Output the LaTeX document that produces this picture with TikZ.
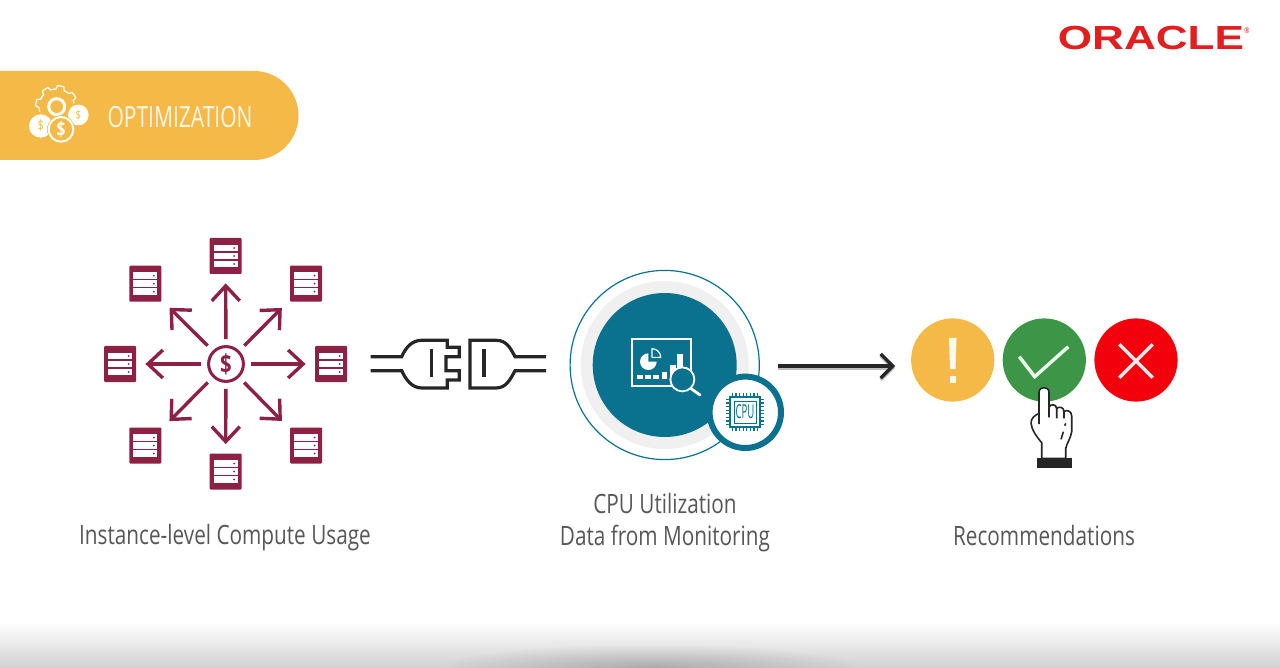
\documentclass[tikz,border=0pt]{standalone}
\usepackage{fontspec}
\setmainfont[FakeStretch=0.78]{Open Sans}
\newfontfamily\headfont[FakeStretch=0.72]{Open Sans}
\newfontfamily\logofont[FakeStretch=1.32]{Liberation Sans}
\newfontfamily\chipfont[FakeStretch=0.5]{Open Sans}
\usetikzlibrary{arrows.meta,fadings}
\definecolor{wine}{RGB}{141,33,68}
\definecolor{amber}{RGB}{245,185,72}
\definecolor{petrol}{RGB}{10,113,142}
\definecolor{leaf}{RGB}{61,150,72}
\definecolor{alarm}{RGB}{242,0,12}
\definecolor{oraclered}{RGB}{226,30,30}
\definecolor{ink}{RGB}{38,38,38}
\tikzfading[name=softspot,inner color=transparent!0,outer color=transparent!100]
\tikzset{
  srvbox/.style={fill=wine,rounded corners=.5pt,minimum width=16pt,minimum height=18pt,inner sep=0pt},
  srvarrow/.style={draw=wine,line width=1.7pt,-{Straight Barb[length=7.5pt,width=14pt]},shorten <=3pt,shorten >=4.5pt},
  srvdiag/.style={srvarrow,shorten <=3.5pt,shorten >=5.5pt},
  caption/.style={text=black!66,font=\fontsize{13.3}{16}\selectfont,align=center},
  plugline/.style={draw=ink,line width=1.6pt},
  verdict/.style={circle,minimum size=41.6pt,inner sep=0pt},
  tickline/.style={draw=white!92!green,line width=1.7pt}
}
\begin{document}
\begin{tikzpicture}[x=.5pt,y=-.5pt]
  \useasboundingbox (0,0) rectangle (1280,668);
  \clip (0,0) rectangle (1280,668);
  % floor
  \shade[top color=white,bottom color=black!18] (0,622) rectangle (1280,668);
  \fill[black,opacity=.18,path fading=softspot,fit fading=true] (440,644) rectangle (860,690);

  % header band
  \fill[amber] (0,71) -- (254,71) arc (-90:90:44.5) -- (0,160) -- cycle;
  \node[text=white!88!amber,font=\headfont\fontsize{14.6}{16}\selectfont] (headline) at (180,117.5) {OPTIMIZATION};
  \begin{scope}[shift={(0,60)},x=.1667pt,y=-.1667pt]
    \begin{scope}[shift={(170,140)}]
      \draw[white,line width=.6pt] plot[domain=0:360,samples=145] (\x:{58+5*sign(sin(8*\x))}) -- cycle;
    \end{scope}
    \fill[amber] (183,208) circle (50);
    \draw[white,line width=1.5pt] (170,140) circle (24);
    \fill[amber] (122,198) circle (42);
    \fill[amber] (235,165) circle (37);
    \fill[white] (122,198) circle (35);
    \fill[white] (235,165) circle (31);
    \node[text=amber,font=\fontsize{7}{8}\selectfont] (coinleft) at (122,198) {\$};
    \node[text=amber,font=\fontsize{6}{8}\selectfont] (coinright) at (235,165) {\$};
    \fill[amber] (183,208) circle (42);
    \draw[white,line width=1pt] (183,208) circle (37);
    \node[text=white,font=\bfseries\fontsize{10}{10}\selectfont] (coinmid) at (183,208) {\$};
  \end{scope}

  % logo
  \node[text=oraclered,font=\logofont\bfseries\fontsize{16.7}{18}\selectfont,inner sep=0pt] (oracle) at (1151,38.5) {ORACLE};
  \node[text=oraclered,font=\fontsize{4}{4}\selectfont,inner sep=0pt] (oraclereg) at (1247,31) {\char"00AE};

  % instance usage
  \node[circle,draw=wine,line width=1.5pt,minimum size=17.4pt,inner sep=0pt,text=wine,font=\bfseries\fontsize{13}{13}\selectfont] (dollar) at (226,364) {\$};
  \foreach \n/\x/\y in {1/225.6/256,2/306/283.7,3/331/364,4/306/445.5,5/225.6/471.5,6/145.3/445.5,7/120/364,8/145.3/283.7}{
    \node[srvbox] (srv\n) at (\x,\y) {};
    \foreach \r in {-8,0,8}{
      \fill[white] (\x-12,\y+\r-3.2) rectangle (\x+12,\y+\r+3.2);
      \fill[wine] (\x+8.5,\y+\r) circle (1);
    }
  }
  \draw[srvarrow] (dollar) -- (srv1);
  \draw[srvdiag] (dollar) -- (srv2);
  \draw[srvarrow] (dollar) -- (srv3);
  \draw[srvdiag] (dollar) -- (srv4);
  \draw[srvarrow] (dollar) -- (srv5);
  \draw[srvdiag] (dollar) -- (srv6);
  \draw[srvarrow] (dollar) -- (srv7);
  \draw[srvdiag] (dollar) -- (srv8);
  \node[caption] (usagetext) at (225,537.5) {Instance-level Compute Usage};

  % plug
  \draw[plugline] (370.7,356.7) -- (401.7,356.7) .. controls (406,347) and (412,340.3) .. (422,340.3)
    -- (447.3,340.3) -- (447.3,347.3) -- (459.3,347.3) -- (459.3,356.7) -- (446,356.7) -- (446,370.7)
    -- (459.3,370.7) -- (459.3,380) -- (447.3,380) -- (447.3,388) -- (422,388)
    .. controls (412,388) and (406,380) .. (401.7,370.7) -- (370.7,370.7);
  \draw[plugline] (431.3,349.3) -- (431.3,377.3);
  \draw[plugline] (546,356.7) -- (515,356.7) .. controls (510,347) and (506,340.3) .. (496,340.3)
    -- (470,340.3) -- (470,388) -- (496,388) .. controls (506,388) and (510,380) .. (515,370.7) -- (546,370.7);
  \draw[plugline] (484,349.3) -- (484,377.3);

  % monitoring
  \node[circle,draw=petrol,line width=.6pt,minimum size=94.6pt,inner sep=0pt] (ring) at (664.7,365) {};
  \fill[black!6] (664.7,365) circle (84);
  \node[circle,fill=petrol,minimum size=72pt,inner sep=0pt] (monitor) at (664.7,365) {};
  \begin{scope}[shift={(560,260)},x=.1667pt,y=-.1667pt]
    \draw[white,line width=1pt] (215,238) rectangle (392,378);
    \fill[white] (265,305) -- (265,280) arc (-90:-360:25) -- cycle;
    \draw[white,line width=.6pt,line join=round] (276,268) -- (276,292) -- (302,292) arc (0:-90:26) -- cycle;
    \foreach \xa/\ya in {232/345,255/345,280/345,305/335,330/315,352/283}{
      \fill[white] (\xa,\ya) rectangle (\xa+17,358);
    }
    \draw[white,line width=1.4pt,line cap=round] (392,385) -- (420,405);
    \draw[white,fill=petrol,line width=.9pt] (367,358) circle (36);
  \end{scope}
  \node[circle,draw=petrol,fill=white,line width=3pt,minimum size=35.7pt,inner sep=0pt] (chip) at (745.3,412.3) {};
  \begin{scope}[shift={(745,412)}]
    \draw[petrol,line width=.8pt] (-15,-15) rectangle (15,15);
    \draw[petrol,line width=.5pt] (-11,-11) rectangle (11,11);
    \foreach \p in {-12.6,-9,-5.4,-1.8,1.8,5.4,9,12.6}{
      \draw[petrol,line width=.6pt] (\p,-19) -- (\p,-15) (\p,15) -- (\p,19) (-19,\p) -- (-15,\p) (15,\p) -- (19,\p);
    }
    \node[text=petrol,font=\chipfont\fontsize{9.6}{10}\selectfont,inner sep=0pt] (chiptext) at (0,0) {CPU};
  \end{scope}
  \node[caption] (monitortext) at (665,523) {CPU Utilization\\Data from Monitoring};

  % arrow to results
  \coordinate (resultfrom) at (778,366);
  \coordinate (resultto) at (895,366);
  \draw[black!25,line width=1.6pt,transform canvas={yshift=-1pt},-{Straight Barb[length=6pt,width=12pt]}] (resultfrom) -- (resultto);
  \draw[ink,line width=1.6pt,-{Straight Barb[length=6pt,width=12pt]}] (resultfrom) -- (resultto);

  % recommendations
  \node[verdict,fill=amber] (warn) at (952.7,360) {};
  \node[verdict,fill=leaf] (good) at (1044.3,360) {};
  \node[verdict,fill=alarm] (bad) at (1136,360) {};
  \fill[white!92!amber] (949,338) -- (956.5,338) -- (955.5,369) -- (950,369) -- cycle;
  \fill[white!92!amber] (949.5,376) rectangle (955.5,383);
  \draw[tickline] (1019.3,356.7) -- (1034.7,376.7) -- (1068.3,346.7);
  \draw[tickline,draw=white!92!red] (1119.3,344.3) -- (1152.7,377.7) (1152.7,344.3) -- (1119.3,377.7);
  \begin{scope}[shift={(900,310)},x=.1667pt,y=-.1667pt]
    \draw[ink,fill=white,line width=.8pt,line join=round] (425,445) -- (425,398) .. controls (410,380) and (395,360) .. (393,340)
      .. controls (392,325) and (405,315) .. (417,310) -- (417,247) .. controls (417,228) and (447,228) .. (447,247)
      -- (447,292) .. controls (450,280) and (470,282) .. (470,296) .. controls (475,288) and (492,290) .. (492,305)
      .. controls (498,298) and (515,302) .. (515,318) -- (515,365) .. controls (512,385) and (500,400) .. (497,415)
      -- (497,445) -- cycle;
    \draw[ink,line width=.8pt] (417,310) -- (417,342) (447,292) -- (447,322) (470,296) -- (470,325) (492,305) -- (492,325) (490,365) -- (483,388) (497,340) -- (494,347);
    \fill[ink] (410,445) rectangle (516,473);
  \end{scope}
  \node[caption] (recotext) at (1044,536) {Recommendations};
\end{tikzpicture}
\end{document}
